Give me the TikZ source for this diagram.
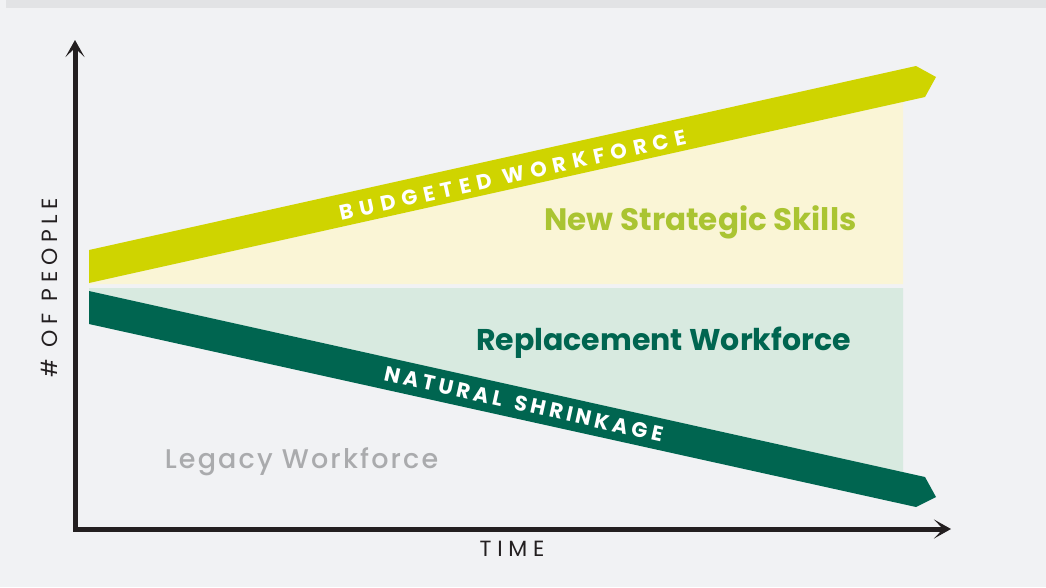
\documentclass[tikz,border=0pt]{standalone}
\usepackage{fontspec}
\setmainfont{Poppins}
\IfFontExistsTF{Poppins Medium}{\newfontfamily\medfont{Poppins Medium}}{\newfontfamily\medfont{Poppins}}
\usetikzlibrary{arrows.meta}

\definecolor{bgcol}{RGB}{241,242,244}
\definecolor{topband}{RGB}{226,227,229}
\definecolor{budgetyellow}{RGB}{207,212,0}
\definecolor{skillsfill}{RGB}{250,245,214}
\definecolor{skillstext}{RGB}{170,196,50}
\definecolor{shrinkgreen}{RGB}{0,101,80}
\definecolor{replfill}{RGB}{216,234,224}
\definecolor{legacygray}{RGB}{170,171,173}
\definecolor{axisblack}{RGB}{35,31,32}

\begin{document}
\begin{tikzpicture}[x=1pt,y=-1pt,
    axis/.style={axisblack,line width=5pt,line join=miter,
      {Stealth[length=17pt,width=19pt,inset=9pt]}-{Stealth[length=17pt,width=19pt,inset=9pt]}},
    bandlabel/.style={white,inner sep=0pt,
      font=\fontsize{21}{21}\selectfont\bfseries\addfontfeatures{LetterSpace=#1}},
    arealabel/.style={inner sep=0pt,anchor=base,font=\fontsize{30}{30}\selectfont\bfseries},
    axislabel/.style={axisblack,inner sep=0pt,anchor=base,
      font=\fontsize{22}{22}\selectfont\addfontfeatures{LetterSpace=26}}]

    % background
    \fill[bgcol] (0,0) rectangle (1046,587);
    \fill[topband] (6,0) rectangle (1046,8);
    \useasboundingbox (0,0) rectangle (1046,587);

    % areas
    \fill[skillsfill] (89,283) -- (903,102) -- (903,284) -- (89,284) -- cycle;
    \fill[replfill] (89,288) -- (903,288) -- (903,472) -- (89,291) -- cycle;

    % bands
    \fill[budgetyellow] (89,250) -- (916,66) -- (936,77) -- (925,97) -- (89,283) -- cycle;
    \fill[shrinkgreen] (89,291) -- (925,477) -- (936,497) -- (916,507) -- (89,324) -- cycle;

    % axes
    \coordinate (ytip) at (75,40);
    \coordinate (xtip) at (951,529);
    \draw[axis] (ytip) |- (xtip);

    \node[bandlabel=31,rotate=12.54] (budget) at (513,175) {BUDGETED WORKFORCE};
    \node[bandlabel=18,rotate=-12.54] (shrink) at (524,404) {NATURAL\hspace{4pt} SHRINKAGE};

    \node[arealabel,skillstext,font=\fontsize{31}{31}\selectfont\bfseries] (skills) at (700.5,230) {New Strategic Skills};
    \node[arealabel,shrinkgreen] (repl) at (663.5,350) {Replacement Workforce};
    \node[arealabel,legacygray,font=\fontsize{27}{27}\medfont\addfontfeatures{LetterSpace=8}] (legacy) at (301.5,468) {Legacy Workforce};

    \node[axislabel,rotate=90] (people) at (57,287.5) {\# OF PEOPLE};
    \node[axislabel] (time) at (512,556) {TIME};
\end{tikzpicture}
\end{document}
